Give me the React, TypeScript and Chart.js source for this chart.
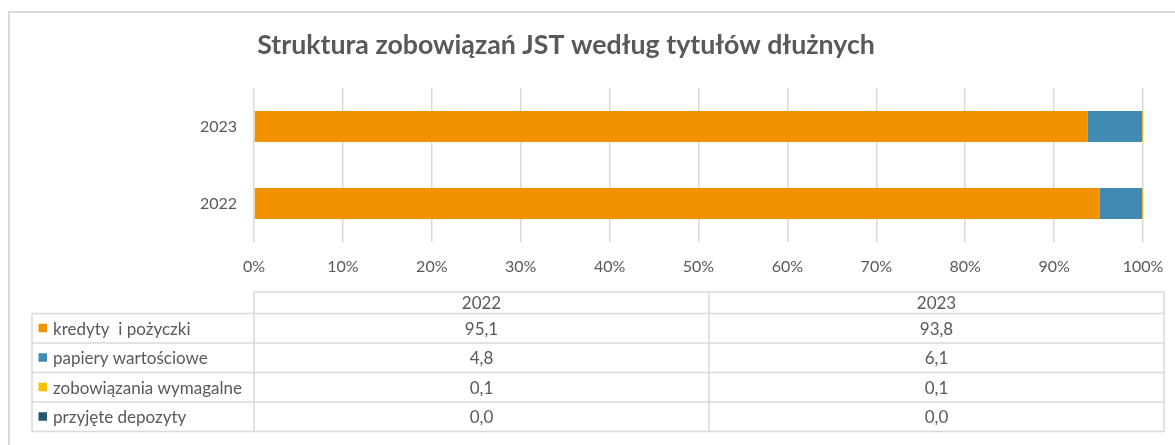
import React, { useEffect, useRef } from 'react';
import { Chart, registerables } from 'chart.js';

Chart.register(...registerables);

// ---- data ----
const chartTitle = 'Struktura zobowiązań JST według tytułów dłużnych';
const years = ['2022', '2023'];
const seriesNames = ['kredyty  i pożyczki', 'papiery wartościowe', 'zobowiązania wymagalne', 'przyjęte depozyty'];
const kredytyValues = [95.1, 93.8];
const papieryValues = [4.8, 6.1];
const wymagalneValues = [0.1, 0.1];
const depozytyValues = [0.0, 0.0];
const seriesColors = ['#F39200', '#418AB3', '#FFC000', '#255671'];
const xTickStep = 10;

// ---- styles ----
const FONT = 'Lato, "Open Sans", "Liberation Sans", sans-serif';
const TEXT = '#595959';
const GRID = '#d9d9d9';

const fmt = (v: number) => v.toFixed(1).replace('.', ',');

const decorPlugin = {
  id: 'decor',
  beforeDraw(chart: any) {
    const ctx = chart.ctx as CanvasRenderingContext2D;
    const w = chart.width;
    const h = chart.height;
    ctx.save();
    ctx.fillStyle = '#ffffff';
    ctx.fillRect(0, 0, w, h);
    // outer frame (cropped at right and bottom)
    ctx.strokeStyle = GRID;
    ctx.lineWidth = 2;
    ctx.strokeRect(9, 12, w + 20, h + 20);
    // title
    let size = 22;
    ctx.font = `bold ${size}px ${FONT}`;
    const m = ctx.measureText(chartTitle).width;
    size = Math.min(28, size * 618 / m);
    ctx.font = `bold ${size}px ${FONT}`;
    ctx.fillStyle = TEXT;
    ctx.textAlign = 'center';
    ctx.textBaseline = 'alphabetic';
    ctx.fillText(chartTitle, 566, 54);
    ctx.restore();
  },
  afterDraw(chart: any) {
    const ctx = chart.ctx as CanvasRenderingContext2D;
    const area = chart.chartArea;
    const left = 32;
    const colLeft = area.left;
    const right = 1164;
    const colW = (right - colLeft) / years.length;
    const headTop = 292;
    const headH = 21.5;
    const rowH = 29.5;
    const bodyTop = headTop + headH;
    const nRows = chart.data.datasets.length;
    const bottom = bodyTop + rowH * nRows;

    ctx.save();
    ctx.strokeStyle = GRID;
    ctx.lineWidth = 1.5;
    ctx.beginPath();
    ctx.moveTo(colLeft, headTop); ctx.lineTo(right, headTop);
    for (let i = 0; i <= nRows; i++) {
      const y = bodyTop + rowH * i;
      ctx.moveTo(left, y); ctx.lineTo(right, y);
    }
    ctx.moveTo(left, bodyTop); ctx.lineTo(left, bottom);
    for (let c = 0; c <= years.length; c++) {
      const x = colLeft + colW * c;
      ctx.moveTo(x, headTop); ctx.lineTo(x, bottom);
    }
    ctx.stroke();

    ctx.fillStyle = TEXT;
    ctx.font = `17px ${FONT}`;
    ctx.textBaseline = 'middle';
    ctx.textAlign = 'center';
    years.forEach((yr, c) => {
      ctx.fillText(yr, colLeft + colW * (c + 0.5), headTop + headH / 2 + 1);
    });

    chart.data.datasets.forEach((ds: any, i: number) => {
      const cy = bodyTop + rowH * (i + 0.5);
      ctx.fillStyle = ds.backgroundColor;
      ctx.fillRect(38.5, cy - 4.5, 8.5, 8.5);
      ctx.fillStyle = TEXT;
      ctx.textAlign = 'left';
      ctx.fillText(ds.label, 53, cy + 1);
      ctx.textAlign = 'center';
      ds.data.forEach((v: number, c: number) => {
        ctx.fillText(fmt(v), colLeft + colW * (c + 0.5), cy + 1);
      });
    });
    ctx.restore();
  },
};

export default function App() {
  const ref = useRef<HTMLCanvasElement | null>(null);

  useEffect(() => {
    if (!ref.current) return;
    const valueLists = [kredytyValues, papieryValues, wymagalneValues, depozytyValues];
    const chart = new Chart(ref.current, {
      type: 'bar',
      data: {
        labels: years,
        datasets: seriesNames.map((name, i) => ({
          label: name,
          data: valueLists[i],
          backgroundColor: seriesColors[i],
          borderWidth: 0,
          barPercentage: 0.5,
          categoryPercentage: 0.8,
        })),
      },
      options: {
        animation: false,
        responsive: false,
        indexAxis: 'y',
        layout: { padding: { top: 88, right: 32, left: 0, bottom: 0 } },
        plugins: {
          legend: { display: false },
          tooltip: { enabled: false },
          title: { display: false },
        },
        scales: {
          x: {
            stacked: true,
            min: 0,
            max: 100,
            ticks: {
              stepSize: xTickStep,
              callback: (v: any) => `${v}%`,
              color: TEXT,
              font: { family: FONT, size: 16 },
              padding: 15,
            },
            grid: { color: GRID, lineWidth: 1.5, drawTicks: false },
            border: { display: false },
            afterFit: (s: any) => { s.height = 203; s.paddingRight = 0; s.paddingLeft = 0; },
          },
          y: {
            stacked: true,
            reverse: true,
            grid: { display: false, drawTicks: false },
            border: { display: false },
            ticks: { color: TEXT, font: { family: FONT, size: 16 }, padding: 17 },
            afterFit: (s: any) => { s.width = 254; },
          },
        },
      },
      plugins: [decorPlugin],
    });
    return () => chart.destroy();
  }, []);

  return (
    <div style={{ position: 'absolute', left: 0, top: 0, width: 1175, height: 445 }}>
      <canvas ref={ref} width={1175} height={445} />
    </div>
  );
}
